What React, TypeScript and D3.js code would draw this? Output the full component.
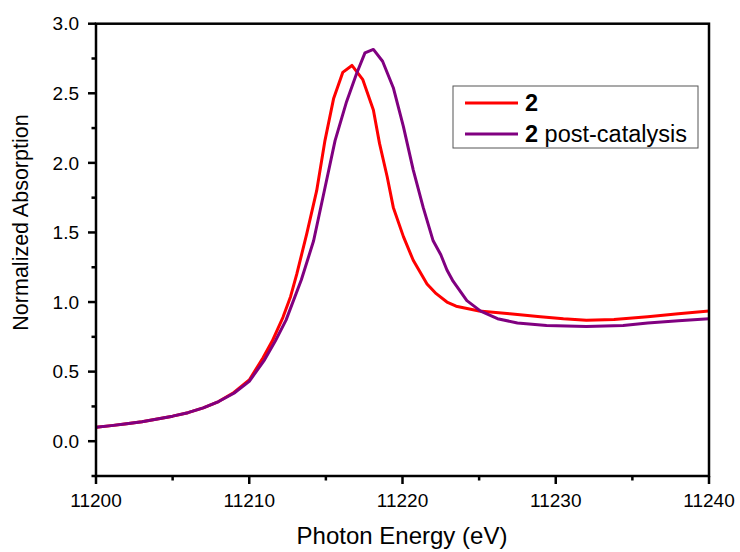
import React from "react";
import * as d3 from "d3";

const energyRed = [11200, 11201, 11202, 11203, 11204, 11205, 11206, 11207, 11208, 11209, 11210, 11210.9, 11211.5, 11212.2, 11212.7, 11213.1, 11213.75, 11214.4, 11214.94, 11215.5, 11216.1, 11216.7, 11217.4, 11218.1, 11218.5, 11219.0, 11219.4, 11220.06, 11220.7, 11221.6, 11222.2, 11222.9, 11223.5, 11225, 11227, 11229, 11230.5, 11232, 11233.8, 11236, 11238, 11240];
const absRed = [0.1, 0.112, 0.125, 0.14, 0.16, 0.18, 0.205, 0.24, 0.285, 0.35, 0.44, 0.6, 0.72, 0.89, 1.04, 1.2, 1.49, 1.8, 2.16, 2.46, 2.65, 2.7, 2.6, 2.38, 2.14, 1.9, 1.68, 1.47, 1.3, 1.13, 1.06, 1.0, 0.97, 0.935, 0.915, 0.895, 0.88, 0.87, 0.875, 0.895, 0.915, 0.935];

const energyPost = [11200, 11201, 11202, 11203, 11204, 11205, 11206, 11207, 11208, 11209, 11210, 11211, 11211.7, 11212.4, 11213.4, 11214.2, 11214.9, 11215.6, 11216.35, 11217.0, 11217.55, 11218.1, 11218.7, 11219.4, 11220.06, 11220.7, 11221.35, 11222.0, 11222.5, 11222.9, 11223.3, 11224.2, 11225.1, 11226.2, 11227.5, 11229.4, 11232, 11234.4, 11236, 11238, 11240];
const absPost = [0.1, 0.112, 0.125, 0.14, 0.16, 0.18, 0.205, 0.24, 0.285, 0.345, 0.43, 0.585, 0.72, 0.87, 1.16, 1.44, 1.8, 2.16, 2.44, 2.64, 2.79, 2.815, 2.73, 2.54, 2.26, 1.95, 1.68, 1.44, 1.34, 1.23, 1.15, 1.01, 0.935, 0.88, 0.85, 0.832, 0.825, 0.832, 0.85, 0.865, 0.88];

const xMajorTicks = [11200, 11210, 11220, 11230, 11240];
const xMinorTicks = [11205, 11215, 11225, 11235];
const yMajorTicks = [0, 0.5, 1.0, 1.5, 2.0, 2.5, 3.0];
const yMinorTicks = [-0.25, 0.25, 0.75, 1.25, 1.75, 2.25, 2.75];

const seriesNames = ["2", "2 post-catalysis"];
const seriesColors = ["#ff0000", "#800080"];

const W = 740, H = 552;
const M = { left: 96, right: 709, top: 23.7, bottom: 476 };

export default function App() {
  const x = d3.scaleLinear().domain([11200, 11240]).range([M.left, M.right]);
  const y = d3.scaleLinear().domain([-0.25, 3.0]).range([M.bottom, M.top]);
  const line = d3
    .line<[number, number]>()
    .x((d) => x(d[0]))
    .y((d) => y(d[1]))
    .curve(d3.curveLinear);
  const redPts = energyRed.map((e, i) => [e, absRed[i]] as [number, number]);
  const postPts = energyPost.map((e, i) => [e, absPost[i]] as [number, number]);
  const font = "Arial, 'Liberation Sans', sans-serif";

  return (
    <svg
      width={W}
      height={H}
      style={{ position: "absolute", left: 0, top: 0, background: "#fff" }}
      fontFamily={font}
    >
      <rect x={0} y={0} width={W} height={H} fill="#fff" />
      <defs>
        <clipPath id="plotclip">
          <rect x={M.left} y={M.top} width={M.right - M.left} height={M.bottom - M.top} />
        </clipPath>
      </defs>
      <g clipPath="url(#plotclip)">
        <path d={line(redPts) || ""} fill="none" stroke={seriesColors[0]} strokeWidth={3} strokeLinejoin="round" />
        <path d={line(postPts) || ""} fill="none" stroke={seriesColors[1]} strokeWidth={3} strokeLinejoin="round" />
      </g>
      {/* frame */}
      <rect
        x={M.left}
        y={M.top}
        width={M.right - M.left}
        height={M.bottom - M.top}
        fill="none"
        stroke="#000"
        strokeWidth={2.5}
      />
      {/* x ticks */}
      {xMajorTicks.map((t) => (
        <g key={"xm" + t}>
          <line x1={x(t)} x2={x(t)} y1={M.bottom} y2={M.bottom + 8} stroke="#000" strokeWidth={2.5} />
          <text x={x(t)} y={507} fontSize={19} textAnchor="middle" fill="#000">
            {t}
          </text>
        </g>
      ))}
      {xMinorTicks.map((t) => (
        <line key={"xn" + t} x1={x(t)} x2={x(t)} y1={M.bottom} y2={M.bottom + 4.5} stroke="#000" strokeWidth={2.5} />
      ))}
      {/* y ticks */}
      {yMajorTicks.map((t) => (
        <g key={"ym" + t}>
          <line x1={M.left - 8} x2={M.left} y1={y(t)} y2={y(t)} stroke="#000" strokeWidth={2.5} />
          <text x={79} y={y(t)} dy="0.35em" fontSize={19} textAnchor="end" fill="#000">
            {t.toFixed(1)}
          </text>
        </g>
      ))}
      {yMinorTicks.map((t) => (
        <line key={"yn" + t} x1={M.left - 4.5} x2={M.left} y1={y(t)} y2={y(t)} stroke="#000" strokeWidth={2.5} />
      ))}
      {/* axis titles */}
      <text x={402} y={544} fontSize={24} textAnchor="middle" fill="#000">
        Photon Energy (eV)
      </text>
      <text
        transform={`translate(28,222.5) rotate(-90)`}
        fontSize={21.5}
        textAnchor="middle"
        fill="#000"
      >
        Normalized Absorption
      </text>
      {/* legend */}
      <rect x={453} y={86} width={245} height={62} fill="#fff" stroke="#555" strokeWidth={1} />
      {seriesNames.map((name, i) => {
        const ly = 103 + i * 31;
        const parts = name.split(" ");
        return (
          <g key={name}>
            <line x1={465} x2={518} y1={ly} y2={ly} stroke={seriesColors[i]} strokeWidth={3} />
            <text x={525} y={ly} dy="0.36em" fontSize={23.5} fill="#000">
              <tspan fontWeight="bold">{parts[0]}</tspan>
              {parts.length > 1 ? " " + parts.slice(1).join(" ") : ""}
            </text>
          </g>
        );
      })}
    </svg>
  );
}
